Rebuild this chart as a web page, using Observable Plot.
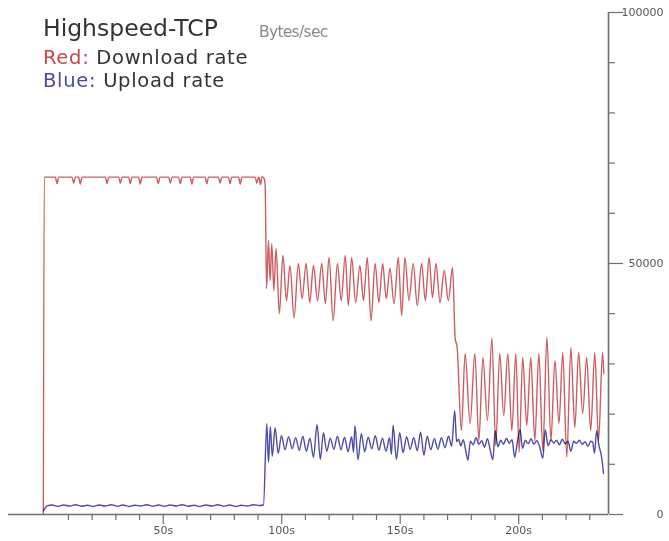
<!DOCTYPE html>
<html><head><meta charset="utf-8">
<script src="https://cdn.jsdelivr.net/npm/d3@7"></script>
<script src="https://cdn.jsdelivr.net/npm/@observablehq/plot@0.6"></script>
<style>
body{margin:0;background:#fff;}
#wrap{position:relative;width:669px;height:541px;overflow:hidden;}
#chart{position:absolute;left:0;top:0;}
.t{position:absolute;font-family:"DejaVu Sans",sans-serif;white-space:nowrap;color:#333;line-height:1;}
</style></head><body>
<div id="wrap">
<div id="chart"></div>
<div class="t" style="left:43px;top:17px;font-size:23.5px">Highspeed-TCP</div>
<div class="t" style="left:259px;top:25px;font-size:15.5px;letter-spacing:-0.7px;color:#8a8a8a">Bytes/sec</div>
<div class="t" style="left:43px;top:48px;font-size:19.5px;letter-spacing:0.7px"><span style="color:#c4484c">Red:</span> Download rate</div>
<div class="t" style="left:43px;top:71px;font-size:19.5px;letter-spacing:0.7px"><span style="color:#4a48a8">Blue:</span> Upload rate</div>
</div>
<script>
// ---- axis ticks ----
const xMinorTicks = [10,20,30,40,60,70,80,90,110,120,130,140,160,170,180,190,210,220,230];
const xMajorTicks = [50,100,150,200];
const xTickLabels = ["50s","100s","150s","200s"];
const yMinorTicks = [10000,20000,30000,40000,60000,70000,80000,90000];
const yMajorTicks = [0,50000,100000];
const yTickLabels = ["0","50000","100000"];

// ---- Red: download rate (time s, bytes/sec) ----
const redT = [
-0.6,-0.2,4.5,5.2,5.9,11.5,12.2,12.9,14.3,15.0,15.7,25.6,26.3,27.0,31.2,31.9,32.6,35.4,36.1,36.8,
39.6,40.3,41.0,47.2,47.9,48.6,52.3,53.0,53.7,56.5,57.2,57.9,61.4,62.1,62.8,67.7,68.4,69.1,73.3,74.0,
74.7,77.5,78.2,78.9,81.8,82.5,83.2,88.8,89.5,90.2,90.4,91.0,91.7,92.5,93.0,93.6,
94.4,95.1,95.8,96.7,97.6,99.0,100.5,102.0,103.5,105.2,107.0,108.6,110.3,111.8,113.4,115.1,116.9,118.4,
120.0,121.7,123.5,125.1,126.8,128.1,129.5,131.2,133.0,134.5,136.1,137.7,139.4,141.0,142.6,144.1,145.7,
147.4,149.2,150.6,152.0,153.7,155.5,157.2,159.0,160.6,162.2,163.6,165.1,166.8,168.6,170.3,172.1,
173.2,174.0,175.8,177.4,179.5,181.5,183.2,184.9,186.8,188.7,190.3,192.0,193.7,195.4,197.1,198.8,200.2,
201.7,203.4,205.1,206.8,208.5,210.2,211.9,213.6,215.3,217.0,218.6,220.3,222.0,223.7,225.3,227.0,228.7,
230.4,232.1,233.7,235.4,235.9];
const redV = [
0,67200,67200,65900,67200,67200,66000,67200,67200,65800,67200,67200,65900,67200,67200,66000,67200,67200,65900,67200,
67200,65800,67200,67200,65900,67200,67200,66000,67200,67200,65900,67200,67200,65800,67200,67200,65900,67200,67200,66000,
67200,67200,65900,67200,67200,65800,67200,67200,66000,67200,67200,65700,67300,67000,65700,45000,
54600,46600,54000,44600,53000,40000,51600,42600,49600,39200,50000,43000,50000,42200,49600,42600,50000,42000,
51200,38600,50000,42600,51600,41600,51200,42200,49600,42600,51200,38600,50000,42200,50000,43000,49000,
42000,51200,39600,51200,42600,50000,41600,50000,42600,51200,43200,50000,42200,48600,42600,49200,
35000,33500,16700,32100,18100,32100,14700,31300,18700,35100,13700,32100,19700,32100,16700,32100,12400,
31300,17700,31300,14700,32100,12700,35300,14700,30700,18100,32300,11400,33300,17300,32300,20100,31300,
16700,32300,14700,32300,28100];

// ---- Blue: upload rate (time s, bytes/sec) ----
const blueT = [
-0.5,1.0,3.0,5.5,8.0,10.5,13.0,15.5,18.0,20.5,23.0,25.5,28.0,30.5,33.0,35.5,38.0,40.5,43.0,45.5,
48.0,50.5,53.0,55.5,58.0,60.5,63.0,65.5,68.0,70.5,73.0,75.5,78.0,80.5,83.0,85.5,88.0,90.5,92.3,
93.7,94.4,95.2,96.0,97.2,98.5,99.9,101.4,102.9,104.4,105.9,107.4,108.9,110.4,111.9,113.4,114.9,116.3,
117.6,119.0,120.5,122.0,123.5,125.0,126.5,128.0,129.5,130.3,130.9,132.2,133.6,135.0,136.5,138.0,139.5,
141.0,142.5,144.0,145.5,146.3,147.0,148.4,149.8,151.2,152.7,154.2,155.7,157.2,158.6,160.0,161.4,162.9,
164.4,165.9,167.4,168.9,170.4,171.7,173.0,173.8,
174.6,175.6,176.6,177.7,178.6,179.6,180.8,182.0,183.2,184.4,185.6,186.8,188.0,189.1,190.1,191.2,192.4,
193.6,194.8,196.0,197.2,198.3,199.4,200.6,201.6,202.8,204.0,205.2,206.4,207.6,208.8,210.2,211.2,212.4,
213.6,214.8,216.0,217.2,218.4,219.6,220.8,222.0,223.2,224.4,225.6,226.8,228.0,229.2,230.4,231.2,232.0,
232.9,233.8,235.0,235.8];
const blueV = [
800,1700,1900,1600,1900,1700,1950,1650,1850,1600,1900,1700,1950,1650,1900,1600,1850,1700,1950,1650,
1900,1600,1900,1700,1950,1650,1850,1600,1900,1700,1950,1650,1900,1600,1850,1700,1950,1800,1900,
18100,10400,17500,11600,17300,12200,15700,12900,15500,13100,15300,12800,15600,12600,15200,11400,17900,11000,
16300,12600,15200,13000,15600,12900,15400,12500,15500,12400,17700,10900,16100,12500,15400,13100,15700,
12800,15200,12600,15300,12000,17800,11000,16300,12300,15500,13000,15300,12700,16400,11800,15600,12900,
15100,13000,15300,13300,15600,13600,20700,14500,
15000,13700,14900,12600,10800,14600,13900,15300,14000,14700,13400,15100,12800,10900,16700,13500,14800,
14000,15200,14200,14900,11400,14300,16900,13200,14800,14100,15100,14000,14700,13600,11200,16900,13700,
14900,14200,14800,13900,15000,14100,14600,12600,14600,14200,14800,14000,14500,13600,14600,14400,12200,
16700,13900,11400,8200];

const axisColor = "#6f6f6f";
const chart = Plot.plot({
  width: 669,
  height: 541,
  marginLeft: 8,
  marginRight: 61,
  marginTop: 12,
  marginBottom: 27,
  style: {fontFamily: "'DejaVu Sans', sans-serif", fontSize: "11px", color: "#555", background: "#fff"},
  x: {domain: [-15.3, 237.9]},
  y: {domain: [0, 100000]},
  marks: [
    Plot.line(blueT, {x: blueT, y: blueV, stroke: "#4c4cac", strokeWidth: 1.4, curve: "monotone-x"}),
    Plot.line(redT, {x: redT, y: redV, stroke: "#cc5e62", strokeWidth: 1.4, curve: "monotone-x", mixBlendMode: "multiply"}),
    Plot.ruleY([0], {stroke: axisColor, strokeWidth: 1.6}),
    Plot.ruleX([237.9], {y1: 0, y2: 100000, stroke: axisColor, strokeWidth: 1.6}),
    Plot.axisX(xMinorTicks, {tickSize: 6, tickFormat: () => "", label: null, stroke: axisColor, strokeWidth: 1.2}),
    Plot.axisX(xMajorTicks, {tickSize: 10, tickPadding: 2, tickFormat: d => xTickLabels[xMajorTicks.indexOf(d)], label: null, stroke: axisColor, strokeWidth: 1.2, fill: "#555"}),
    Plot.axisY(yMinorTicks, {anchor: "right", tickSize: 6, tickFormat: () => "", label: null, stroke: axisColor, strokeWidth: 1.2}),
    Plot.axisY(yMajorTicks, {anchor: "right", tickSize: 14, tickPadding: 41, textAnchor: "end", tickFormat: d => yTickLabels[yMajorTicks.indexOf(d)], label: null, stroke: axisColor, strokeWidth: 1.2, fill: "#555"})
  ]
});
document.getElementById("chart").append(chart);
</script>
</body></html>
